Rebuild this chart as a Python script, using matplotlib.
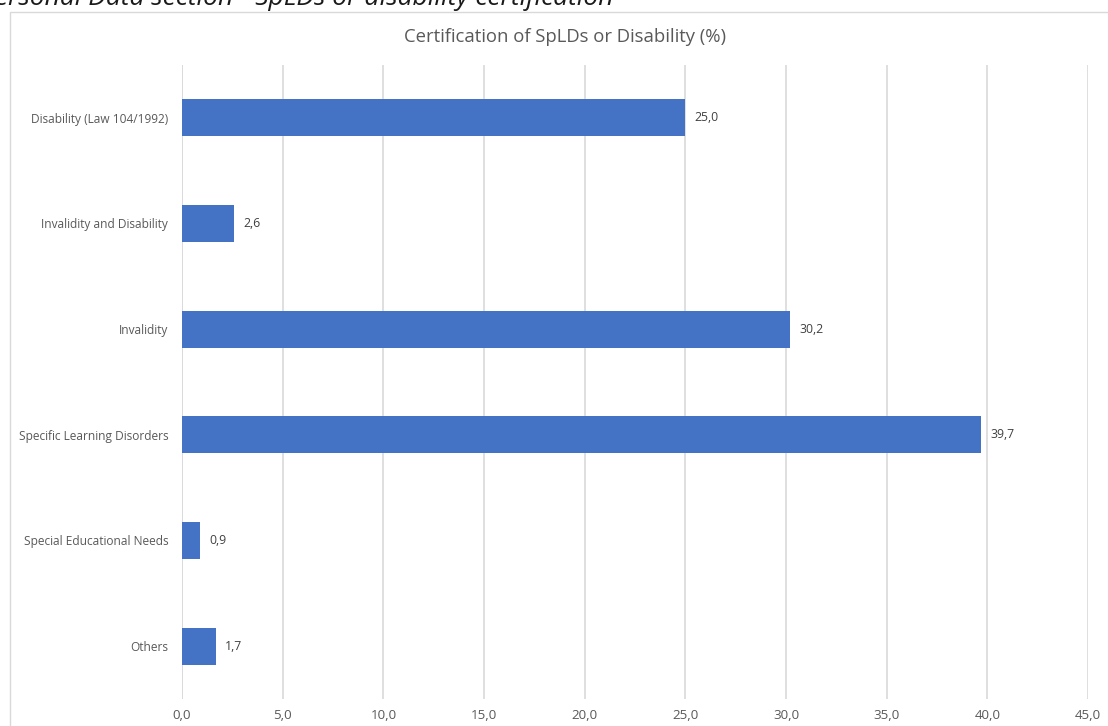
import matplotlib.pyplot as plt
from matplotlib.patches import Rectangle
from matplotlib.ticker import FuncFormatter

categories = [
    "Disability (Law 104/1992)",
    "Invalidity and Disability",
    "Invalidity",
    "Specific Learning Disorders",
    "Special Educational Needs",
    "Others",
]
values = [25.0, 2.6, 30.2, 39.7, 0.9, 1.7]
x_ticks = [0, 5, 10, 15, 20, 25, 30, 35, 40, 45]

plt.rcParams['font.family'] = ['Open Sans', 'DejaVu Sans']
text_color = '#595959'
bar_color = '#4472C4'
grid_color = '#D9D9D9'


def comma(v, pos=None):
    return f"{v:.1f}".replace('.', ',')


fig = plt.figure(figsize=(11.08, 7.26), dpi=100)
ax = fig.add_axes([0.1643, 0.0372, 0.8177, 0.8733])

y_pos = list(range(len(categories)))
ax.barh(y_pos, values, height=0.35, color=bar_color, zorder=3)
for y, v in zip(y_pos, values):
    ax.text(v + 0.45, y, comma(v), va='center', ha='left',
            fontsize=8.8, color='#404040')

ax.set_ylim(len(categories) - 0.5, -0.5)
ax.set_yticks(y_pos)
ax.set_yticklabels(categories, fontsize=8.6, color=text_color)
ax.set_xlim(0, 45)
ax.set_xticks(x_ticks)
ax.xaxis.set_major_formatter(FuncFormatter(comma))
ax.tick_params(axis='x', labelsize=9.6, colors=text_color, length=0, pad=7)
ax.tick_params(axis='y', length=0, pad=10)
ax.grid(axis='x', color=grid_color, linewidth=1.2, zorder=0)
ax.axvline(0, color=grid_color, linewidth=1.2, zorder=1)
for s in ax.spines.values():
    s.set_visible(False)

fig.text(565 / 1108, 1 - 37 / 726, "Certification of SpLDs or Disability (%)",
         fontsize=13.3, color=text_color, ha='center', va='center')

# chart frame
fig.patches.append(Rectangle((10 / 1108, -0.01), 1.1, 1 - 12 / 726 + 0.01,
                             transform=fig.transFigure, fill=False,
                             edgecolor=grid_color, linewidth=1))

# caption partly cut off at top of the picture
fig.text(-0.018, 1.002, "Personal Data section - SpLDs or disability certification",
         fontsize=19, style='italic', color='#1a1a1a', ha='left', va='center')

fig.savefig('out.png', dpi=100)
